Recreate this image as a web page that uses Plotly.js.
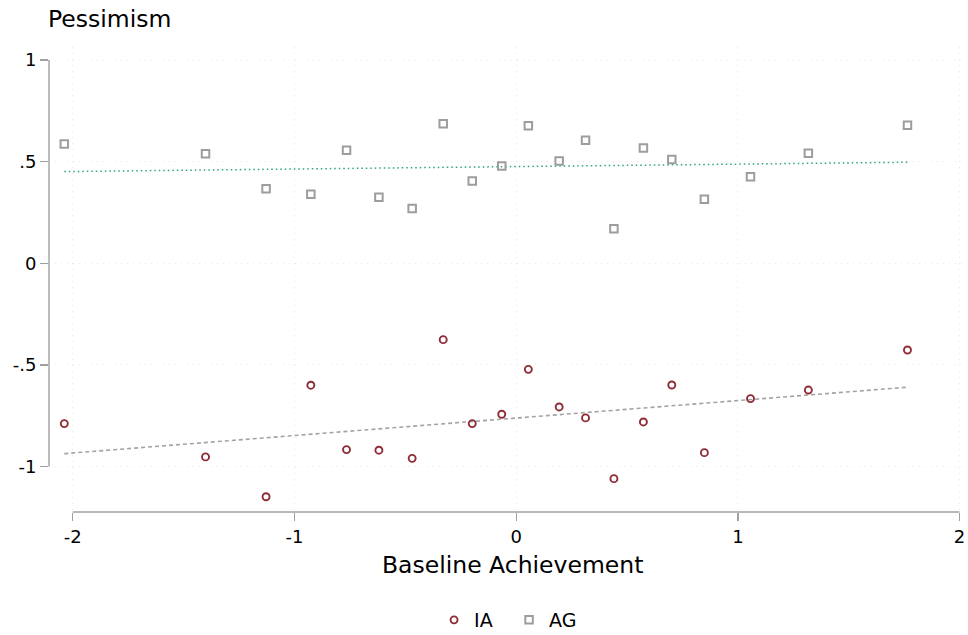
<!DOCTYPE html>
<html>
<head>
<meta charset="utf-8">
<script src="https://cdn.plot.ly/plotly-3.0.1.min.js"></script>
<style>html,body{margin:0;padding:0;background:#fff;}#chart{width:968px;height:635px;}</style>
</head>
<body>
<div id="chart"></div>
<script>
// Baseline achievement (x) for each group bin
const baseline = [-2.038, -1.401, -1.128, -0.926, -0.765, -0.619, -0.469, -0.329, -0.198, -0.065,
                  0.055, 0.194, 0.313, 0.441, 0.574, 0.702, 0.849, 1.057, 1.318, 1.765];
// Pessimism values
const iaValues = [-0.789, -0.953, -1.149, -0.600, -0.917, -0.920, -0.960, -0.376, -0.789, -0.743,
                  -0.522, -0.707, -0.761, -1.060, -0.781, -0.599, -0.932, -0.666, -0.624, -0.427];
const agValues = [0.587, 0.539, 0.367, 0.340, 0.556, 0.325, 0.269, 0.686, 0.405, 0.479,
                  0.677, 0.503, 0.605, 0.170, 0.567, 0.510, 0.315, 0.425, 0.541, 0.679];
// Linear fit lines (endpoints)
const fitX = [-2.038, 1.765];
const fitIA = [-0.937, -0.610];
const fitAG = [0.451, 0.497];
// Tick labels
const xTickVals = [-2, -1, 0, 1, 2];
const xTickText = ['-2', '-1', '0', '1', '2'];
const yTickVals = [-1, -0.5, 0, 0.5, 1];
const yTickText = ['-1', '-.5', '0', '.5', '1'];
const seriesNames = ['IA', 'AG'];

const FONT = 'DejaVu Sans, sans-serif';
const axisGray = '#a0a0a0';

const traces = [
  {x: fitX, y: fitAG, mode: 'lines', showlegend: false, hoverinfo: 'skip',
   line: {color: '#2aa584', width: 1.5, dash: '1.5px,3px'}},
  {x: fitX, y: fitIA, mode: 'lines', showlegend: false, hoverinfo: 'skip',
   line: {color: '#a3a3a3', width: 1.6, dash: '4px,3px'}},
  {x: baseline, y: iaValues, mode: 'markers', name: seriesNames[0],
   marker: {symbol: 'circle-open', size: 7, color: '#8e2c37', line: {width: 1.9, color: '#8e2c37'}}},
  {x: baseline, y: agValues, mode: 'markers', name: seriesNames[1],
   marker: {symbol: 'square-open', size: 7.5, color: '#9d9d9d', line: {width: 2, color: '#9d9d9d'}}}
];

const layout = {
  width: 968, height: 635,
  margin: {l: 49, r: 2, t: 47, b: 123, pad: 0, autoexpand: false},
  paper_bgcolor: '#fff', plot_bgcolor: '#fff',
  font: {family: FONT, color: '#000', size: 18},
  showlegend: true,
  xaxis: {
    range: [-2.107, 2.029], tickmode: 'array', tickvals: xTickVals, ticktext: xTickText,
    showline: false, zeroline: false, showgrid: true, gridcolor: '#e8e8e8', griddash: '1px,5px', gridwidth: 1,
    ticks: 'outside', ticklen: 8, tickwidth: 1.3, tickcolor: axisGray, automargin: false,
    tickfont: {family: FONT, size: 18, color: '#000'}
  },
  yaxis: {
    range: [-1.224, 1.064], tickmode: 'array', tickvals: yTickVals, ticktext: yTickText,
    showline: false, zeroline: false, showgrid: true, gridcolor: '#e8e8e8', griddash: '1px,5px', gridwidth: 1,
    ticks: 'outside', ticklen: 8, tickwidth: 1.3, tickcolor: axisGray, automargin: false,
    tickfont: {family: FONT, size: 18, color: '#000'}
  },
  shapes: [
    {type: 'line', xref: 'paper', yref: 'y', x0: 0, x1: 0, y0: -1, y1: 1,
     line: {color: axisGray, width: 1.4}},
    {type: 'line', xref: 'x', yref: 'paper', x0: -2, x1: 2, y0: 0, y1: 0,
     line: {color: axisGray, width: 1.4}}
  ],
  annotations: [
    {text: 'Pessimism', xref: 'paper', yref: 'paper', x: 0, y: 1, xanchor: 'left', yanchor: 'middle',
     xshift: -3, yshift: 28, showarrow: false, font: {family: FONT, size: 23.5, color: '#000'}},
    {text: 'Baseline Achievement', xref: 'paper', yref: 'paper', x: 0.505, y: 0, xanchor: 'center', yanchor: 'middle',
     yshift: -53, showarrow: false, font: {family: FONT, size: 23.5, color: '#000'}}
  ],
  legend: {
    orientation: 'h', x: 0.5017, xanchor: 'center', y: -108 / 465, yanchor: 'middle', yref: 'paper',
    font: {family: FONT, size: 19, color: '#000'}, bgcolor: 'rgba(0,0,0,0)', borderwidth: 0,
    itemwidth: 30, entrywidth: 30
  }
};

Plotly.newPlot('chart', traces, layout, {displayModeBar: false, staticPlot: true});
</script>
</body>
</html>
